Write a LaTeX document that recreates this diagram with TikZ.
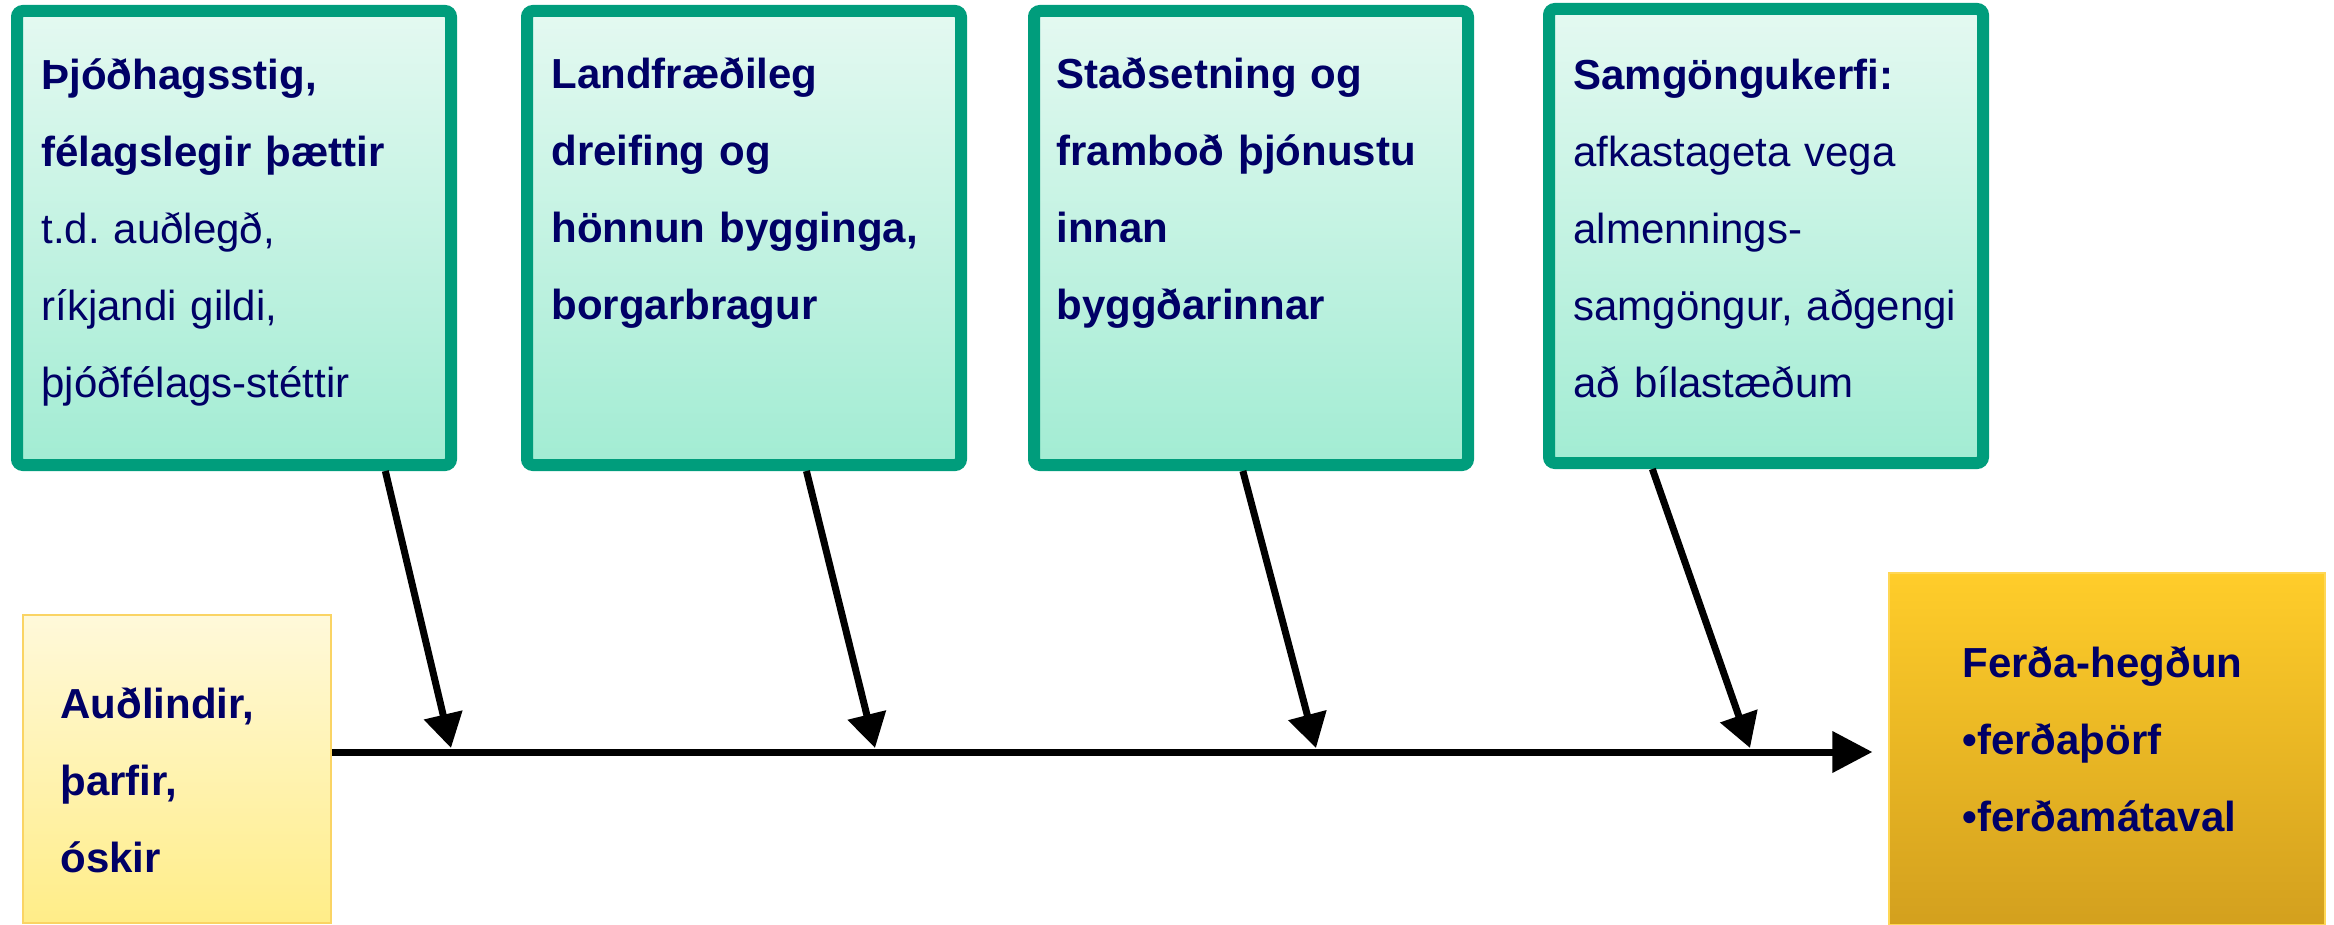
\documentclass[tikz,border=0pt]{standalone}
\usepackage{fontspec}
\setmainfont{Liberation Sans}
\usetikzlibrary{arrows.meta}
\definecolor{navy}{RGB}{0,0,102}
\definecolor{boxgreen}{RGB}{0,157,124}
\definecolor{greentop}{RGB}{228,249,241}
\definecolor{greenbot}{RGB}{162,236,211}
\definecolor{yellowtop}{RGB}{255,249,218}
\definecolor{yellowbot}{RGB}{255,237,136}
\definecolor{yellowline}{RGB}{250,212,100}
\definecolor{ambertop}{RGB}{255,205,42}
\definecolor{amberbot}{RGB}{211,160,30}
\frenchspacing
\begin{document}
\begin{tikzpicture}[x=0.5pt, y=-0.5pt,
    factor/.style={draw=boxgreen, line width=6pt, rounded corners=3pt,
      top color=greentop, bottom color=greenbot,
      minimum width=217pt, minimum height=227pt, inner sep=0pt},
    source/.style={draw=yellowline, line width=0.8pt,
      top color=yellowtop, bottom color=yellowbot,
      minimum width=154pt, minimum height=154pt, inner sep=0pt},
    target/.style={draw=ambertop!80!white, line width=0.6pt,
      top color=ambertop, bottom color=amberbot,
      minimum width=218pt, minimum height=176pt, inner sep=0pt},
    txt/.style={anchor=base west, text width=205pt, align=left, inner sep=0pt,
      text=navy, font=\fontsize{21pt}{38.5pt}\selectfont},
    link/.style={-{Triangle[length=17pt,width=19pt]}, line width=3.5pt},
    axis/.style={-{Triangle[length=20pt,width=20pt]}, line width=3.5pt}]
      \useasboundingbox (0,0) rectangle (2334,925);
      %
      \node[factor] (b1) at (234,238) {};      % factor boxes
      \node[factor] (b2) at (744,238) {};
      \node[factor] (b3) at (1251,238) {};
      \node[factor] (b4) at (1766,236) {};
      %
      \node[source] (src) at (177,769) {};     % start and end
      \node[target] (dst) at (2107,749) {};
      %
      \node[txt] (t1) at (41,90) {\textbf{Þjóðhagsstig,}\\ \textbf{félagslegir þættir}\\
        t.d. auðlegð,\\ ríkjandi gildi,\\ þjóðfélags-stéttir};
      \node[txt] (t2) at (551,89) {\textbf{Landfræðileg}\\ \textbf{dreifing og}\\
        \textbf{hönnun bygginga,}\\ \textbf{borgarbragur}};
      \node[txt] (t3) at (1056,89) {\textbf{Staðsetning og}\\ \textbf{framboð þjónustu}\\
        \textbf{innan}\\ \textbf{byggðarinnar}};
      \node[txt] (t4) at (1573,90) {\textbf{Samgöngukerfi:}\\ afkastageta vega\\
        almennings-\\ samgöngur, aðgengi\\ að bílastæðum};
      %%
      \node[txt] (ts) at (60,718) {\textbf{Auðlindir,}\\ \textbf{þarfir,}\\ \textbf{óskir}};
      \node[txt] (td) at (1962,677) {\textbf{Ferða-hegðun}\\ \textbf{•ferðaþörf}\\
        \textbf{•ferðamátaval}};
      %
      \coordinate (spine) at (0,752);          % main line
      \draw[axis] (src.east |- spine) -- ([xshift=-8pt]dst.west |- spine);
      %
      \coordinate (j1) at (451,748);           % arrows onto the line
      \coordinate (j2) at (875,748);
      \coordinate (j3) at (1316,748);
      \coordinate (j4) at (1750,748);
      \draw[link] (b1.-57) -- (j1);
      \draw[link] (b2.-75) -- (j2);
      \draw[link] (b3.-92) -- (j3);
      \draw[link] (b4.-116) -- (j4);
      %
    \end{tikzpicture}
\end{document}
